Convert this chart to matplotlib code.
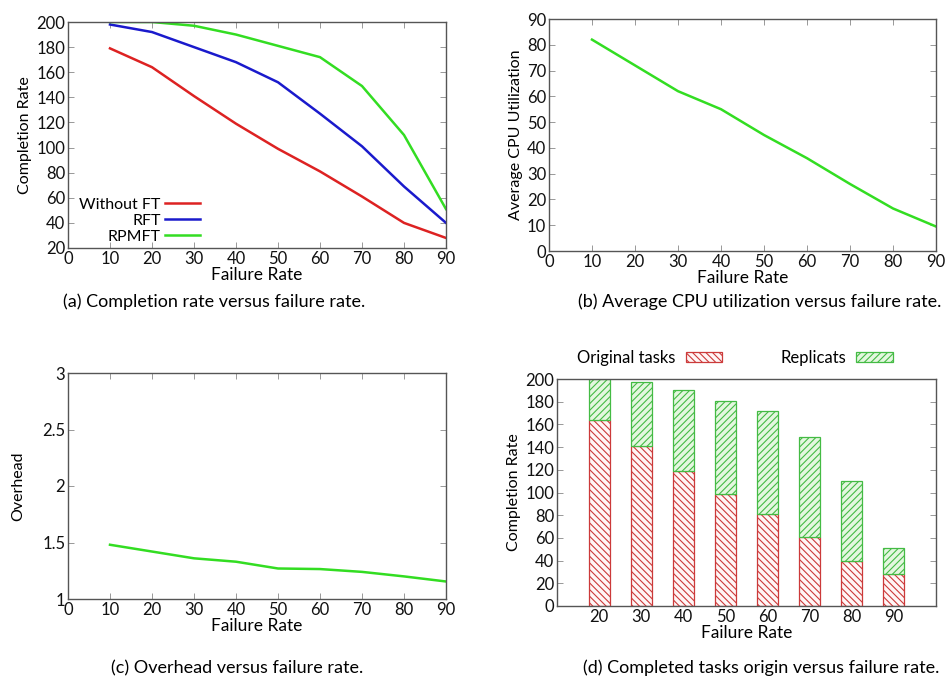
import numpy as np
import matplotlib
matplotlib.use("Agg")
import matplotlib.pyplot as plt
from matplotlib.patches import Patch

plt.rcParams['font.family'] = ['Lato', 'DejaVu Sans']
plt.rcParams['hatch.linewidth'] = 0.8

failure_rate = [10, 20, 30, 40, 50, 60, 70, 80, 90]
without_ft = [179, 164, 141, 119, 99, 81, 61, 40, 28]
rft = [198, 192, 180, 168, 152, 127, 101, 69, 40]
rpmft = [200, 200, 197, 190, 181, 172, 149, 110, 51]
cpu_util = [82, 72, 62, 55, 45, 36, 26, 16.5, 9.5]
overhead = [1.48, 1.42, 1.36, 1.33, 1.27, 1.265, 1.24, 1.20, 1.155]

bar_rate = [20, 30, 40, 50, 60, 70, 80, 90]
original_tasks = [164, 141, 119, 99, 81, 61, 40, 28]
total_tasks = [200, 197, 190, 181, 172, 149, 110, 51]
replicats = [t - o for t, o in zip(total_tasks, original_tasks)]

RED = "#dd2222"
BLUE = "#1a1acc"
GREEN = "#33dd22"

W, H = 947, 680
fig = plt.figure(figsize=(W / 100, H / 100), dpi=100)


def add_ax(left, right, top, bottom):
    return fig.add_axes([left / W, 1 - bottom / H, (right - left) / W, (bottom - top) / H])


def style(ax):
    for s in ax.spines.values():
        s.set_color("#555555")
        s.set_linewidth(1.0)
    ax.tick_params(direction="in", top=True, right=True, length=4, width=0.6,
                   color="#888888", labelsize=12, pad=2, labelcolor="#111111")


XFS = 12.5
YFS = 11.5
LFS = 11.5

# (a)
ax = add_ax(68, 446, 22, 248)
ax.plot(failure_rate, without_ft, color=RED, lw=1.8, label="Without FT")
ax.plot(failure_rate, rft, color=BLUE, lw=1.8, label="RFT")
ax.plot(failure_rate, rpmft, color=GREEN, lw=1.8, label="RPMFT")
ax.set_xlim(0, 90)
ax.set_ylim(20, 200)
ax.set_xticks(range(0, 91, 10))
ax.set_yticks(range(20, 201, 20))
ax.set_xlabel("Failure Rate", fontsize=XFS, labelpad=0)
ax.set_ylabel("Completion Rate", fontsize=YFS, labelpad=3)
style(ax)
ax.legend(loc="lower left", bbox_to_anchor=(0.0, -0.03), markerfirst=False, frameon=False,
          fontsize=LFS, handlelength=2.2, handletextpad=0.3, labelspacing=0.1,
          borderaxespad=0.3)

# (b)
ax = add_ax(549, 936, 19, 251)
ax.plot(failure_rate, cpu_util, color=GREEN, lw=1.8)
ax.set_xlim(0, 90)
ax.set_ylim(0, 90)
ax.set_xticks(range(0, 91, 10))
ax.set_yticks(range(0, 91, 10))
ax.set_xlabel("Failure Rate", fontsize=XFS, labelpad=0)
ax.set_ylabel("Average CPU Utilization", fontsize=YFS, labelpad=3)
style(ax)

# (c)
ax = add_ax(68, 446, 373, 599)
ax.plot(failure_rate, overhead, color=GREEN, lw=1.8)
ax.set_xlim(0, 90)
ax.set_ylim(1, 3)
ax.set_xticks(range(0, 91, 10))
ax.set_yticks([1, 1.5, 2, 2.5, 3])
ax.set_yticklabels(["1", "1.5", "2", "2.5", "3"])
ax.set_xlabel("Failure Rate", fontsize=XFS, labelpad=0)
ax.set_ylabel("Overhead", fontsize=YFS, labelpad=12)
style(ax)

# (d)
ax = add_ax(557, 936, 379, 606)
ax.bar(bar_rate, original_tasks, width=5, facecolor="#fff6f6", edgecolor="#cc3a3a",
       hatch="\\\\\\\\\\", linewidth=0.9)
ax.bar(bar_rate, replicats, width=5, bottom=original_tasks, facecolor="#e4f7df",
       edgecolor="#44bb44", hatch="/////", linewidth=0.9)
ax.set_xlim(10, 100)
ax.set_ylim(0, 200)
ax.set_xticks(bar_rate)
ax.set_yticks(range(0, 201, 20))
ax.set_xlabel("Failure Rate", fontsize=XFS, labelpad=0)
ax.set_ylabel("Completion Rate", fontsize=YFS, labelpad=3)
style(ax)
ax.tick_params(axis="x", length=0)
handles = [Patch(facecolor="#fff6f6", edgecolor="#cc3a3a", hatch="\\\\\\\\\\", lw=0.9),
           Patch(facecolor="#e4f7df", edgecolor="#44bb44", hatch="/////", lw=0.9)]
ax.legend(handles, ["Original tasks", "Replicats"], loc="lower center",
          bbox_to_anchor=(0.47, 1.0), ncol=2, markerfirst=False, frameon=False,
          fontsize=12, handlelength=2.2, handleheight=0.5, handletextpad=0.6,
          columnspacing=3.5, borderaxespad=0.4)

# captions
CFS = 13
fig.text(214 / W, 1 - 302 / H, "(a) Completion rate versus failure rate.", ha="center", va="center", fontsize=CFS)
fig.text(941 / W, 1 - 302 / H, "(b) Average CPU utilization versus failure rate.", ha="right", va="center", fontsize=CFS)
fig.text(237 / W, 1 - 668 / H, "(c) Overhead versus failure rate.", ha="center", va="center", fontsize=CFS)
fig.text(939 / W, 1 - 668 / H, "(d) Completed tasks origin versus failure rate.", ha="right", va="center", fontsize=CFS)

fig.savefig("out.png", dpi=100)
